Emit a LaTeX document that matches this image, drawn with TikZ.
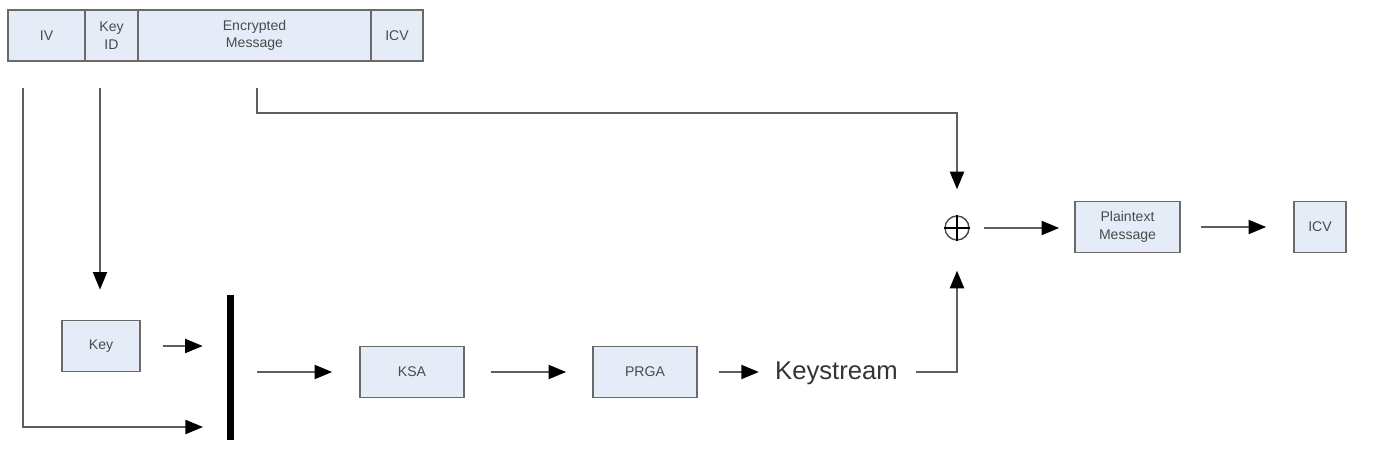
\documentclass[tikz,border=0pt]{standalone}
\usepackage{fontspec}
\setmainfont{Liberation Sans}
\usetikzlibrary{arrows.meta}
\definecolor{boxfill}{HTML}{E6ECF7}
\definecolor{boxline}{HTML}{6A6A6A}
\definecolor{wire}{HTML}{5E5E5E}
\definecolor{label}{HTML}{4A4A4A}

\begin{document}
\begin{tikzpicture}[x=0.02cm,y=-0.02cm,
  cell/.style={draw=boxline,fill=boxfill,line width=1pt,minimum height=1.02cm,inner sep=0pt,align=center,text=label,font=\fontsize{8}{10}\selectfont},
  arr/.style={draw=wire,line width=1.1pt,-{Triangle[length=10pt,width=8pt,color=black]}}]
\useasboundingbox (0,0) rectangle (1399,465);

% Frame header
\node[cell,minimum width=1.54cm] (iv) at (46.5,35.5) {IV};
\node[cell,minimum width=1.06cm] (keyid) at (111.5,35.5) {Key\\ID};
\node[cell,minimum width=4.66cm] (encmsg) at (254.5,35.5) {Encrypted\\Message};
\node[cell,minimum width=1.04cm] (hdricv) at (397,35.5) {ICV};

% Key scheduling chain
\node[cell,minimum width=1.56cm] (key) at (101,346) {Key};
\node[fill=black,minimum width=0.14cm,minimum height=2.9cm,inner sep=0pt] (bar) at (230.5,367.5) {};
\node[cell,minimum width=2.08cm] (ksa) at (412,372) {KSA};
\node[cell,minimum width=2.08cm] (prga) at (645,372) {PRGA};
\node[font=\fontsize{14.6}{16}\selectfont,text=label!70!black,inner sep=0pt,anchor=base] (ks) at (836.5,380) {Keystream};

% XOR and output
\node[circle,draw=label,line width=0.8pt,minimum size=0.48cm,inner sep=0pt] (xor) at (957,228) {};
\draw[label,line width=0.8pt] (xor.north) -- (xor.south) (xor.west) -- (xor.east);
\node[cell,minimum width=2.1cm] (plain) at (1127.5,227) {Plaintext\\Message};
\node[cell,minimum width=1.04cm] (icv) at (1320,227) {ICV};

% Taps below the header
\coordinate (ivtap) at (23,88);
\coordinate (idtap) at (100,88);
\coordinate (msgtap) at (257,88);
\coordinate (msgbend) at (257,113);
\coordinate (ivin) at (203,427);

\draw[arr] (ivtap) |- (ivin);
\draw[arr,shorten >=0.6cm] (idtap) -- (idtap |- key.north);
\draw[arr,shorten >=0.52cm] (msgtap) -- (msgbend) -| (xor.north);

\draw[arr,shorten <=0.44cm,shorten >=0.48cm] (key.east) -- (key.east -| bar.west);
\draw[arr,shorten <=0.46cm,shorten >=0.54cm] (bar.east |- ksa.west) -- (ksa.west);
\draw[arr,shorten <=0.52cm,shorten >=0.52cm] (ksa) -- (prga);
\draw[arr,shorten <=0.42cm,shorten >=0.32cm] (prga.east) -- (prga.east -| ks.west);
\draw[arr,shorten <=0.36cm,shorten >=0.6cm] (ks.east |- prga.east) -| (xor.south);
\draw[arr,shorten <=0.28cm,shorten >=0.3cm] (xor.east) -- (xor.east -| plain.west);
\draw[arr,shorten <=0.4cm,shorten >=0.54cm] (plain) -- (icv);
\end{tikzpicture}
\end{document}
